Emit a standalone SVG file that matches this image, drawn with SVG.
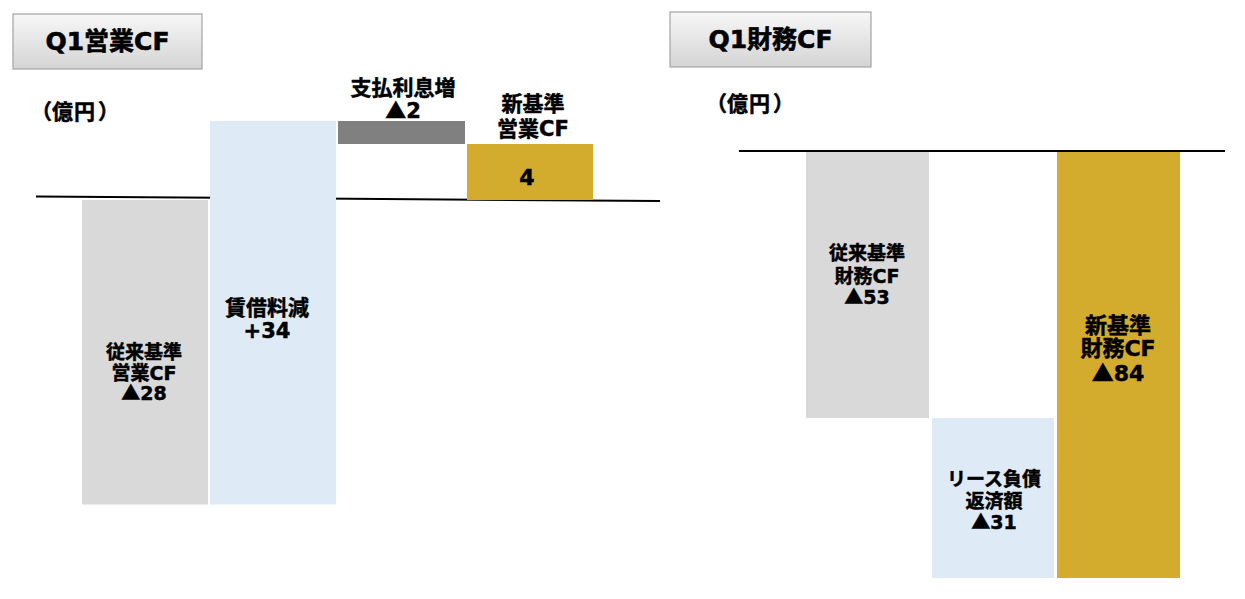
<svg xmlns="http://www.w3.org/2000/svg" width="1245" height="599" viewBox="0 0 1245 599">
  <defs>
    <linearGradient id="titleGrad" x1="0" y1="0" x2="0" y2="1">
      <stop offset="0" stop-color="#f7f7f7"/>
      <stop offset="1" stop-color="#d4d4d4"/>
    </linearGradient>
    <style>
      text { font-family: "DejaVu Sans", "Noto Sans CJK JP", sans-serif; font-weight: bold; fill: #000; stroke: #000; stroke-width: 0.5; text-anchor: middle; }
      .tri { font-family: "Noto Sans CJK JP", sans-serif; }
      .title { font-size: 25px; stroke-width: 0.6; }
      .unit { font-family: "Noto Sans CJK JP", sans-serif; font-size: 21px; text-anchor: start; }
      .s19 { font-size: 19px; }
      .s21 { font-size: 21px; }
      .s22 { font-size: 22px; }
      .tbox { fill: url(#titleGrad); stroke: #a3a3a3; stroke-width: 1.2; }
      .gray { fill: #d9d9d9; }
      .blue { fill: #deebf7; }
      .dark { fill: #808080; }
      .gold { fill: #d4ac2d; }
      .axis { stroke: #000; stroke-width: 2; fill: none; }
    </style>
  </defs>
  <rect width="1245" height="599" fill="#fff"/>

  <g id="axes">
    <line class="axis" x1="36" y1="196.5" x2="660" y2="201"/>
    <line class="axis" x1="739" y1="151" x2="1225" y2="151"/>
  </g>

  <g id="title-op">
    <rect class="tbox" x="13" y="14" width="189" height="55"/>
    <text class="title" x="107.5" y="50">Q1営業CF</text>
  </g>
  <g id="unit-op">
    <text class="unit" x="31 52 74 98" y="118.5">（億円）</text>
  </g>

  <g id="bar-op-old">
    <rect class="gray" x="82" y="200" width="126" height="304.5"/>
    <text class="s19" x="144" y="359">従来基準</text>
    <text class="s19" x="144" y="380">営業CF</text>
    <text class="s19" x="144" y="400"><tspan class="tri">▲</tspan>28</text>
  </g>
  <g id="bar-op-rent">
    <rect class="blue" x="210" y="121" width="126" height="383.5"/>
    <text class="s21" x="267" y="315">賃借料減</text>
    <text class="s21" x="267" y="338">+34</text>
  </g>
  <g id="bar-op-interest">
    <rect class="dark" x="338" y="121" width="127" height="23"/>
    <text class="s21" x="403" y="95">支払利息増</text>
    <text class="s21" x="403" y="118"><tspan class="tri">▲</tspan>2</text>
  </g>
  <g id="bar-op-new">
    <rect class="gold" x="467" y="144" width="126" height="56"/>
    <text class="s21" x="533" y="111">新基準</text>
    <text class="s21" x="533" y="136">営業CF</text>
    <text class="s22" x="527" y="185">4</text>
  </g>

  <g id="title-fin">
    <rect class="tbox" x="670" y="12" width="201" height="55"/>
    <text class="title" x="770.5" y="48">Q1財務CF</text>
  </g>
  <g id="unit-fin">
    <text class="unit" x="706 727 749 773" y="110.5">（億円）</text>
  </g>

  <g id="bar-fin-old">
    <rect class="gray" x="806" y="152" width="123" height="266"/>
    <text class="s19" x="867" y="260">従来基準</text>
    <text class="s19" x="867" y="283">財務CF</text>
    <text class="s19" x="867" y="304"><tspan class="tri">▲</tspan>53</text>
  </g>
  <g id="bar-fin-lease">
    <rect class="blue" x="932" y="418" width="122" height="160"/>
    <text class="s19" x="994" y="486">リース負債</text>
    <text class="s19" x="994" y="508">返済額</text>
    <text class="s19" x="994" y="529"><tspan class="tri">▲</tspan>31</text>
  </g>
  <g id="bar-fin-new">
    <rect class="gold" x="1057" y="152" width="123" height="426"/>
    <text class="s22" x="1118" y="333">新基準</text>
    <text class="s22" x="1118" y="356">財務CF</text>
    <text class="s22" x="1118" y="381"><tspan class="tri">▲</tspan>84</text>
  </g>
</svg>
